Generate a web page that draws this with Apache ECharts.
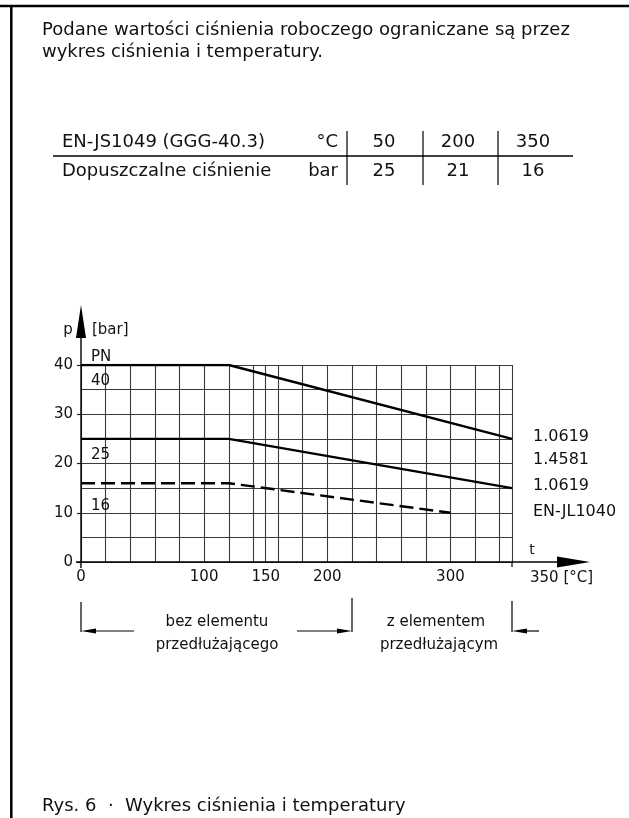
<!DOCTYPE html>
<html><head><meta charset="utf-8">
<script src="https://cdn.jsdelivr.net/npm/echarts@6/dist/echarts.min.js"></script>
<style>html,body{margin:0;padding:0;background:#fff}#c{width:629px;height:818px}</style>
</head><body><div id="c"></div>
<script>
// ---- data ----
const temps40 = [0, 120, 350];
const pn40 = [40, 40, 25];
const temps25 = [0, 120, 350];
const pn25 = [25, 25, 15];
const temps16 = [0, 120, 300];
const pn16 = [16, 16, 10];
const xTickLabels = [0, 100, 150, 200, 300];
const extraGridX = [150];
const tableHead = ['EN-JS1049 (GGG-40.3)', '°C', '50', '200', '350'];
const tableRow = ['Dopuszczalne ciśnienie', 'bar', '25', '21', '16'];
const materialLabels = ['1.0619', '1.4581', '1.0619', 'EN-JL1040'];
const titleLines = ['Podane wartości ciśnienia roboczego ograniczane są przez', 'wykres ciśnienia i temperatury.'];
const caption = 'Rys. 6  ·  Wykres ciśnienia i temperatury';

const FONT = 'DejaVu Sans';
const TXT = '#111';
const GRIDC = '#3a3a3a';
const zip = (a, b) => a.map((v, i) => [v, b[i]]);

const chart = echarts.init(document.getElementById('c'), null, {renderer: 'canvas'});
chart.setOption({
  animation: false,
  backgroundColor: '#fff',
  grid: {left: 81, top: 365, width: 431, height: 197},
  xAxis: [
    {type: 'value', min: 0, max: 350, interval: 20,
     axisLine: {show: false}, axisTick: {show: false}, axisLabel: {show: false},
     splitLine: {show: true, lineStyle: {color: GRIDC, width: 1.1}}},
    {type: 'value', min: 0, max: 350, interval: 50, position: 'bottom',
     axisLine: {show: false}, axisTick: {show: false}, splitLine: {show: false},
     axisLabel: {margin: 8, fontSize: 15, fontFamily: FONT, color: TXT,
       formatter: v => xTickLabels.includes(v) ? String(v) : ''}}
  ],
  yAxis: {type: 'value', min: 0, max: 40, interval: 10,
    axisLine: {show: false},
    axisTick: {show: true, length: 4, lineStyle: {color: '#222', width: 1.2}},
    axisLabel: {margin: 8, fontSize: 15, fontFamily: FONT, color: TXT},
    splitLine: {show: true, lineStyle: {color: GRIDC, width: 1.1}},
    minorTick: {show: false, splitNumber: 2},
    minorSplitLine: {show: true, lineStyle: {color: GRIDC, width: 1.1}}
  },
  series: [
    {type: 'line', data: zip(temps40, pn40), symbol: 'none', lineStyle: {color: '#000', width: 2.4}, z: 5,
     markLine: {silent: true, symbol: 'none', label: {show: false}, lineStyle: {color: GRIDC, width: 1.1, type: 'solid'},
       data: extraGridX.map(v => ({xAxis: v})), z: 1}},
    {type: 'line', data: zip(temps25, pn25), symbol: 'none', lineStyle: {color: '#000', width: 2.4}, z: 5},
    {type: 'line', data: zip(temps16, pn16), symbol: 'none', lineStyle: {color: '#000', width: 2.4, type: [14, 6]}, z: 5}
  ]
});

const P = (x, y) => chart.convertToPixel({gridIndex: 0}, [x, y]);
const O = P(0, 0), TR = P(350, 40);
const g = [];
const line = (x1, y1, x2, y2, w, c) => g.push({type: 'line', shape: {x1, y1, x2, y2}, style: {stroke: c || '#000', lineWidth: w || 1.3}, z: 10});
const poly = (pts) => g.push({type: 'polygon', shape: {points: pts}, style: {fill: '#000'}, z: 10});
const text = (t, x, y, size, align, base) => g.push({type: 'text', x, y, style: {text: t, font: size + 'px "' + FONT + '"', fill: TXT, textAlign: align || 'left', textVerticalAlign: base || 'middle'}, z: 10});

// frame
line(0, 6, 629, 6, 2.5); line(11.3, 5, 11.3, 818, 2.5);
// title
text(titleLines[0], 42, 30.5, 18, 'left');
text(titleLines[1], 42, 52.5, 18, 'left');
// table
line(53, 156, 573, 156, 1.3);
[347, 423, 498].forEach(x => line(x, 131, x, 185, 1.2));
const colX = [62, 338, 384, 458, 533];
const colA = ['left', 'right', 'center', 'center', 'center'];
tableHead.forEach((t, i) => text(t, colX[i], 142.5, 18, colA[i]));
tableRow.forEach((t, i) => text(t, colX[i], 171, 18, colA[i]));
// axes
line(O[0], O[1] + 6, O[0], TR[1] - 30, 1.4);
poly([[O[0], TR[1] - 60], [O[0] - 5, TR[1] - 27], [O[0] + 5, TR[1] - 27]]);
line(O[0] - 5, O[1], TR[0] + 48, O[1], 1.4);
poly([[TR[0] + 78, O[1]], [TR[0] + 45, O[1] - 5.5], [TR[0] + 45, O[1] + 5.5]]);
line(TR[0], O[1], TR[0], O[1] + 5, 1.2);
text('p', 68, 330, 15, 'center');
text('[bar]', 92, 330, 15, 'left');
text('PN', 91, 357, 15, 'left');
text('40', 91, 381, 15, 'left');
text('25', 91, 455, 15, 'left');
text('16', 91, 506, 15, 'left');
text('t', 532, 550, 14, 'center');
text('350 [°C]', 530, 578, 15, 'left');
[437, 459.5, 486, 512].forEach((y, i) => text(materialLabels[i], 533, y, 16, 'left'));
// bottom brackets
const ay = 631;
line(81, 602, 81, 632, 1.2);
line(92, ay, 134, ay, 1.2); poly([[81, ay], [96, ay - 2.6], [96, ay + 2.6]]);
line(297, ay, 340, ay, 1.2); poly([[352, ay], [337, ay - 2.6], [337, ay + 2.6]]);
line(352, 598, 352, 632, 1.2);
line(512, 601, 512, 632, 1.2);
line(524, ay, 539, ay, 1.2); poly([[512, ay], [527, ay - 2.6], [527, ay + 2.6]]);
text('bez elementu', 217, 622, 15, 'center');
text('przedłużającego', 217, 645, 15, 'center');
text('z elementem', 436, 622, 15, 'center');
text('przedłużającym', 439, 645, 15, 'center');
// caption
text(caption, 42, 806, 18, 'left');

chart.setOption({graphic: {elements: g}});
</script>
</body></html>
